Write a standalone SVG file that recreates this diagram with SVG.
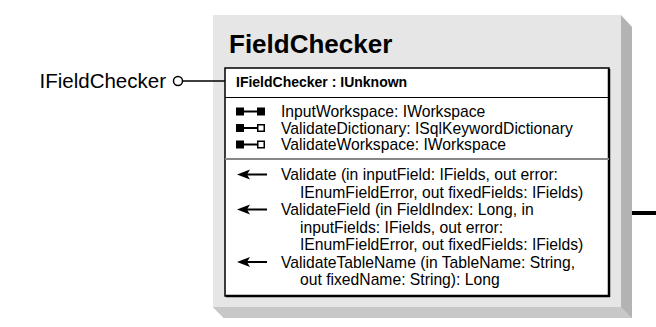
<svg xmlns="http://www.w3.org/2000/svg" width="656" height="327" viewBox="0 0 656 327">
<style>
text{font-family:"Liberation Sans",Arial,sans-serif;fill:#000}
.t{font-size:15.7px}
.b{font-weight:bold}
</style>
<defs>
<g id="prop-rr"><rect x="0" y="-4" width="8" height="8" fill="#000"/><line x1="8" y1="0" x2="21" y2="0" stroke="#000" stroke-width="2"/><rect x="21" y="-4" width="8" height="8" fill="#000"/></g>
<g id="prop-rw"><rect x="0" y="-4" width="8" height="8" fill="#000"/><line x1="8" y1="0" x2="21" y2="0" stroke="#000" stroke-width="2"/><rect x="21.75" y="-3.25" width="6.5" height="6.5" fill="#fff" stroke="#000" stroke-width="1.5"/></g>
<g id="meth"><polygon points="0,0 13,-5 10,0 13,5" fill="#000"/><line x1="9" y1="0" x2="30" y2="0" stroke="#000" stroke-width="2"/></g>
</defs>
<g id="FieldChecker">
<polygon points="621,15 632,27 632,318 224,318 213,307 621,307" fill="#b3b3b3"/>
<polygon points="213,307 621,307 632,318 224,318" fill="#c8c8c8"/>
<rect x="213" y="15" width="408" height="292" fill="#e6e6e6"/>
<text x="229" y="53" class="b" font-size="26">FieldChecker</text>
<rect x="225" y="68" width="384" height="228" fill="#fff" stroke="#000" stroke-width="1.5"/>
<line x1="609" y1="69" x2="609" y2="297" stroke="#000" stroke-width="2.5"/>
<line x1="226" y1="296" x2="610" y2="296" stroke="#000" stroke-width="2.5"/>
<text x="236" y="87" class="b" font-size="14">IFieldChecker : IUnknown</text>
<line x1="225" y1="97.5" x2="609" y2="97.5" stroke="#000" stroke-width="1"/>
<use href="#prop-rr" x="236" y="111.5"/>
<use href="#prop-rw" x="236" y="128"/>
<use href="#prop-rw" x="236" y="144.5"/>
<text x="281" y="117" class="t">InputWorkspace: IWorkspace</text>
<text x="281" y="133.5" class="t">ValidateDictionary: ISqlKeywordDictionary</text>
<text x="281" y="150" class="t">ValidateWorkspace: IWorkspace</text>
<line x1="225" y1="159" x2="609" y2="159" stroke="#888" stroke-width="2"/>
<use href="#meth" x="237" y="174.5"/>
<use href="#meth" x="237" y="209.5"/>
<use href="#meth" x="237" y="262"/>
<text class="t">
<tspan x="281" y="180">Validate (in inputField: IFields, out error:</tspan>
<tspan x="300" y="197.5">IEnumFieldError, out fixedFields: IFields)</tspan>
<tspan x="281" y="215">ValidateField (in FieldIndex: Long, in</tspan>
<tspan x="300" y="232.5">inputFields: IFields, out error:</tspan>
<tspan x="300" y="250">IEnumFieldError, out fixedFields: IFields)</tspan>
<tspan x="281" y="267.5">ValidateTableName (in TableName: String,</tspan>
<tspan x="300" y="285">out fixedName: String): Long</tspan>
</text>
</g>
<g id="IFieldChecker">
<text x="166" y="88" font-size="20.5" text-anchor="end">IFieldChecker</text>
</g>
<g id="connectors">
<circle cx="178" cy="81" r="4.5" fill="#fff" stroke="#000" stroke-width="1.5"/>
<line x1="182.5" y1="81" x2="225" y2="81" stroke="#000" stroke-width="1.5"/>
<line x1="632" y1="213" x2="656" y2="213" stroke="#000" stroke-width="4"/>
</g>
</svg>
